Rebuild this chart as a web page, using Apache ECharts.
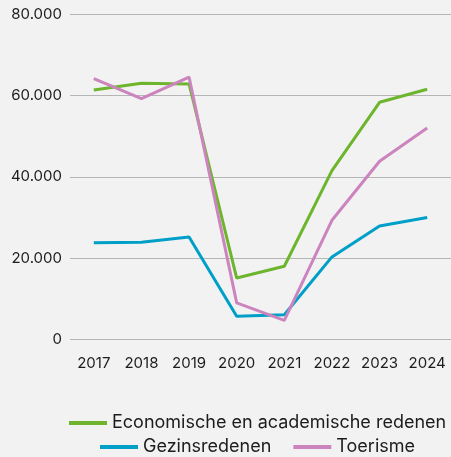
<!DOCTYPE html>
<html>
<head>
<meta charset="utf-8">
<script src="https://cdn.jsdelivr.net/npm/echarts@6/dist/echarts.min.js"></script>
<style>
  html, body { margin: 0; padding: 0; background: #f2f2f2; }
  #chart { width: 451px; height: 457px; }
</style>
</head>
<body>
<div id="chart"></div>
<script>
// jaren en waarden
const years = ['2017', '2018', '2019', '2020', '2021', '2022', '2023', '2024']
const economisch = [61300, 63000, 62800, 15100, 18000, 41500, 58300, 61500]
const gezin = [23800, 23900, 25200, 5700, 6100, 20300, 27900, 30000]
const toerisme = [64100, 59200, 64500, 9000, 4700, 29300, 43800, 52000]

const names = ['Economische en academische redenen', 'Gezinsredenen', 'Toerisme']
const colors = ['#6cb52d', '#009fc8', '#cc84be']

const textStyle = { color: '#1c1c1c', fontFamily: 'Inter', fontSize: 15 }
const legendText = { color: '#1c1c1c', fontFamily: 'Inter', fontSize: 18 }

const chart = echarts.init(document.getElementById('chart'))

chart.setOption({
  backgroundColor: '#f2f2f2',
  animation: false,
  grid: { left: 70, right: 0, top: 14, bottom: 117.5 },
  legend: [
    {
      data: [names[0]],
      left: 69, top: 414, padding: 0,
      icon: 'rect', itemWidth: 38, itemHeight: 4, itemGap: 22,
      textStyle: legendText
    },
    {
      data: [names[1], names[2]],
      left: 100, top: 438, padding: 0,
      icon: 'rect', itemWidth: 38, itemHeight: 4, itemGap: 22,
      textStyle: legendText
    }
  ],
  xAxis: {
    type: 'category',
    data: years,
    boundaryGap: true,
    axisLine: { show: false },
    axisTick: { show: false },
    axisLabel: { ...textStyle, margin: 16, interval: 0 }
  },
  yAxis: {
    type: 'value',
    min: 0,
    max: 80000,
    interval: 20000,
    axisLabel: {
      ...textStyle,
      margin: 8,
      formatter: v => v === 0 ? '0' : (v / 1000) + '.000'
    },
    splitLine: { lineStyle: { color: '#b5b5b5', width: 1 } }
  },
  series: [
    { name: names[0], type: 'line', data: economisch },
    { name: names[1], type: 'line', data: gezin },
    { name: names[2], type: 'line', data: toerisme }
  ].map((s, i) => ({
    ...s,
    symbol: 'none',
    color: colors[i],
    lineStyle: { width: 3, color: colors[i] }
  }))
})
</script>
</body>
</html>
